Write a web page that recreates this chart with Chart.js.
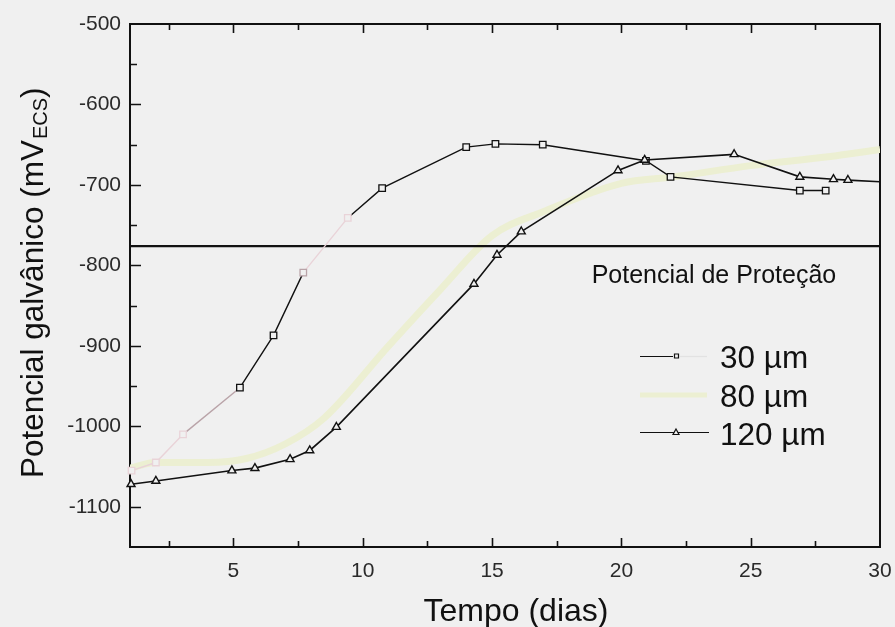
<!DOCTYPE html>
<html>
<head>
<meta charset="utf-8">
<script src="https://cdn.jsdelivr.net/npm/chart.js@4.4.1/dist/chart.umd.min.js"></script>
<style>
  html, body { margin: 0; padding: 0; background: #f0f0f0; }
  #wrap { width: 895px; height: 627px; }
</style>
</head>
<body>
<div id="wrap"><canvas id="c" width="895" height="627"></canvas></div>
<script>
// Galvanic potential (mV vs SCE) against time (days) for three coating thicknesses
const days30 = [1.06, 2.0, 3.05, 5.25, 6.55, 7.7, 9.42, 10.75, 14.0, 15.13, 16.96, 20.95, 21.9, 26.9, 27.9];
const pot30  = [-1055, -1045, -1010, -952, -887, -809, -741, -704, -653, -649, -650, -670, -690, -707, -707];

const days80 = [1, 2, 4, 5.5, 7, 8.5, 11, 13, 15, 17, 20, 22, 25, 28, 30];
const pot80  = [-1052, -1045, -1045, -1040, -1022, -990, -900, -830, -763, -733, -698, -690, -676, -665, -656];

const days120 = [1.04, 2.0, 4.94, 5.83, 7.19, 7.95, 8.98, 14.3, 15.19, 16.13, 19.87, 20.9, 24.36, 26.9, 28.2, 28.76, 30];
const pot120  = [-1072, -1068, -1055, -1052, -1041, -1030, -1001, -823, -787, -758, -682, -669, -662, -690, -693, -694, -696];

const protectionLevel = -776;
const protectionLabel = 'Potencial de Proteção';

const seriesLabels = ['30 µm', '80 µm', '120 µm'];
const xLabelTicks = [5, 10, 15, 20, 25, 30];
const xMarkTicks  = [2.5, 5, 7.5, 10, 12.5, 15, 17.5, 20, 22.5, 25, 27.5];
const yLabelTicks = [-500, -600, -700, -800, -900, -1000, -1100];
const yMarkTicks  = [-550, -600, -650, -700, -750, -800, -850, -900, -950, -1000, -1050, -1100];
const xRange = [1, 30];
const yRange = [-1150, -500];

// styling
const FONT = '"Liberation Sans", Arial, Helvetica, sans-serif';
const INK = '#111111';
const PAPER = '#f0f0f0';
const PINK = '#e9d3d8';
const PINK_MID = '#b9a3a8';
const PALE_YELLOW = '#ecefd2';
const faded30Seg = { 0: PINK, 1: PINK, 2: PINK_MID, 5: PINK };
const faded30Pts = { 0: PINK, 1: PINK, 2: PINK, 5: PINK_MID, 6: PINK };

const toPoints = (xs, ys) => xs.map((x, i) => ({ x, y: ys[i] }));

// frame, inward tick marks, titles, legend and the protection label
const decorations = {
  id: 'decorations',
  beforeDatasetsDraw(chart) {
    const { ctx, chartArea: a, scales: { x, y } } = chart;
    ctx.save();
    ctx.strokeStyle = INK;
    ctx.lineWidth = 2;
    ctx.strokeRect(a.left, a.top, a.right - a.left, a.bottom - a.top);
    ctx.lineWidth = 1.6;
    ctx.beginPath();
    xMarkTicks.forEach(v => {
      const px = Math.round(x.getPixelForValue(v)) + 0.5;
      const len = v % 5 === 0 ? 9 : 6;
      ctx.moveTo(px, a.bottom); ctx.lineTo(px, a.bottom - len);
      ctx.moveTo(px, a.top); ctx.lineTo(px, a.top + len);
    });
    yMarkTicks.forEach(v => {
      const py = Math.round(y.getPixelForValue(v)) + 0.5;
      const len = v % 100 === 0 ? 11 : 7;
      ctx.moveTo(a.left, py); ctx.lineTo(a.left + len, py);
    });
    ctx.stroke();
    ctx.restore();
  },
  afterDraw(chart) {
    const { ctx, chartArea: a, scales: { x, y } } = chart;
    ctx.save();
    ctx.fillStyle = INK;

    // x title
    ctx.font = `32px ${FONT}`;
    ctx.textAlign = 'center';
    ctx.textBaseline = 'alphabetic';
    ctx.fillText('Tempo (dias)', (a.left + a.right) / 2 + 11, 621);

    // y title with subscript
    const main = 'Potencial galvânico (mV';
    const sub = 'ECS';
    const close = ')';
    ctx.translate(43, 478);
    ctx.rotate(-Math.PI / 2);
    ctx.textAlign = 'left';
    ctx.font = `31.5px ${FONT}`;
    ctx.fillText(main, 0, 0);
    let off = ctx.measureText(main).width;
    ctx.font = `20px ${FONT}`;
    ctx.fillText(sub, off + 1, 4);
    off += ctx.measureText(sub).width + 1;
    ctx.font = `31.5px ${FONT}`;
    ctx.fillText(close, off, 0);
    ctx.setTransform(1, 0, 0, 1, 0, 0);

    // protection potential label
    ctx.font = `25px ${FONT}`;
    ctx.textAlign = 'left';
    ctx.fillText(protectionLabel, x.getPixelForValue(18.85), y.getPixelForValue(protectionLevel) + 36.5);

    // legend
    const rows = [
      { y: 356, text: seriesLabels[0], baseline: 368 },
      { y: 395, text: seriesLabels[1], baseline: 407 },
      { y: 432, text: seriesLabels[2], baseline: 445 }
    ];
    ctx.font = `31.5px ${FONT}`;
    rows.forEach(r => { ctx.fillStyle = INK; ctx.fillText(r.text, 720, r.baseline); });

    // 30 µm sample
    ctx.lineWidth = 1.2;
    ctx.strokeStyle = INK;
    ctx.beginPath(); ctx.moveTo(640, rows[0].y + 0.5); ctx.lineTo(673, rows[0].y + 0.5); ctx.stroke();
    ctx.strokeStyle = '#e2e2e2';
    ctx.beginPath(); ctx.moveTo(680, rows[0].y + 0.5); ctx.lineTo(707, rows[0].y + 0.5); ctx.stroke();
    ctx.strokeStyle = INK;
    ctx.fillStyle = PAPER;
    ctx.beginPath(); ctx.rect(674.5, rows[0].y - 2, 4, 4); ctx.fill(); ctx.stroke();

    // 80 µm sample
    ctx.strokeStyle = PALE_YELLOW;
    ctx.lineWidth = 5;
    ctx.beginPath(); ctx.moveTo(640, rows[1].y); ctx.lineTo(707, rows[1].y); ctx.stroke();

    // 120 µm sample
    ctx.strokeStyle = INK;
    ctx.lineWidth = 1.2;
    ctx.beginPath(); ctx.moveTo(640, rows[2].y + 0.5); ctx.lineTo(709, rows[2].y + 0.5); ctx.stroke();
    ctx.fillStyle = PAPER;
    ctx.beginPath();
    ctx.moveTo(676, rows[2].y - 3); ctx.lineTo(679, rows[2].y + 2.5); ctx.lineTo(673, rows[2].y + 2.5); ctx.closePath();
    ctx.fill(); ctx.stroke();

    ctx.restore();
  }
};

new Chart(document.getElementById('c'), {
  type: 'line',
  data: {
    datasets: [
      {
        label: seriesLabels[0],
        data: toPoints(days30, pot30),
        borderColor: INK,
        borderWidth: 1.4,
        segment: { borderColor: c => faded30Seg[c.p0DataIndex] },
        pointStyle: 'rect',
        pointRadius: 4.6,
        pointBorderWidth: 1.3,
        pointBackgroundColor: PAPER,
        pointBorderColor: c => faded30Pts[c.dataIndex] || INK,
        clip: false,
        order: 1
      },
      {
        label: seriesLabels[2],
        data: toPoints(days120, pot120),
        borderColor: INK,
        borderWidth: 1.6,
        pointStyle: 'triangle',
        pointRadius: c => (c.dataIndex === days120.length - 1 ? 0 : 4.6),
        pointBorderWidth: 1.4,
        pointBackgroundColor: PAPER,
        pointBorderColor: INK,
        clip: false,
        order: 0
      },
      {
        label: 'protection',
        data: [{ x: xRange[0], y: protectionLevel }, { x: xRange[1], y: protectionLevel }],
        borderColor: INK,
        borderWidth: 2.2,
        pointRadius: 0,
        order: 2
      },
      {
        label: seriesLabels[1],
        data: toPoints(days80, pot80),
        borderColor: PALE_YELLOW,
        borderWidth: 7,
        pointRadius: 0,
        cubicInterpolationMode: 'monotone',
        order: 3
      }
    ]
  },
  options: {
    responsive: false,
    animation: false,
    devicePixelRatio: 1,
    layout: { padding: { left: 0, right: 15, top: 24, bottom: 0 } },
    plugins: { legend: { display: false }, tooltip: { enabled: false } },
    scales: {
      x: {
        type: 'linear',
        min: xRange[0],
        max: xRange[1],
        grid: { display: false, drawTicks: false },
        border: { display: false },
        afterBuildTicks: s => { s.ticks = xLabelTicks.map(v => ({ value: v })); },
        afterFit: s => { s.height = 80; s.paddingLeft = 0; s.paddingRight = 0; },
        ticks: {
          font: { family: FONT, size: 21 },
          color: '#2a2a2a',
          padding: 12,
          maxRotation: 0,
          autoSkip: false,
          callback: v => String(v)
        }
      },
      y: {
        type: 'linear',
        min: yRange[0],
        max: yRange[1],
        grid: { display: false, drawTicks: false },
        border: { display: false },
        afterBuildTicks: s => { s.ticks = yLabelTicks.map(v => ({ value: v })); },
        afterFit: s => { s.width = 130; s.paddingTop = 0; s.paddingBottom = 0; },
        ticks: {
          font: { family: FONT, size: 21 },
          color: '#2a2a2a',
          padding: 9,
          autoSkip: false,
          callback: v => String(v)
        }
      }
    }
  },
  plugins: [decorations]
});
</script>
</body>
</html>
